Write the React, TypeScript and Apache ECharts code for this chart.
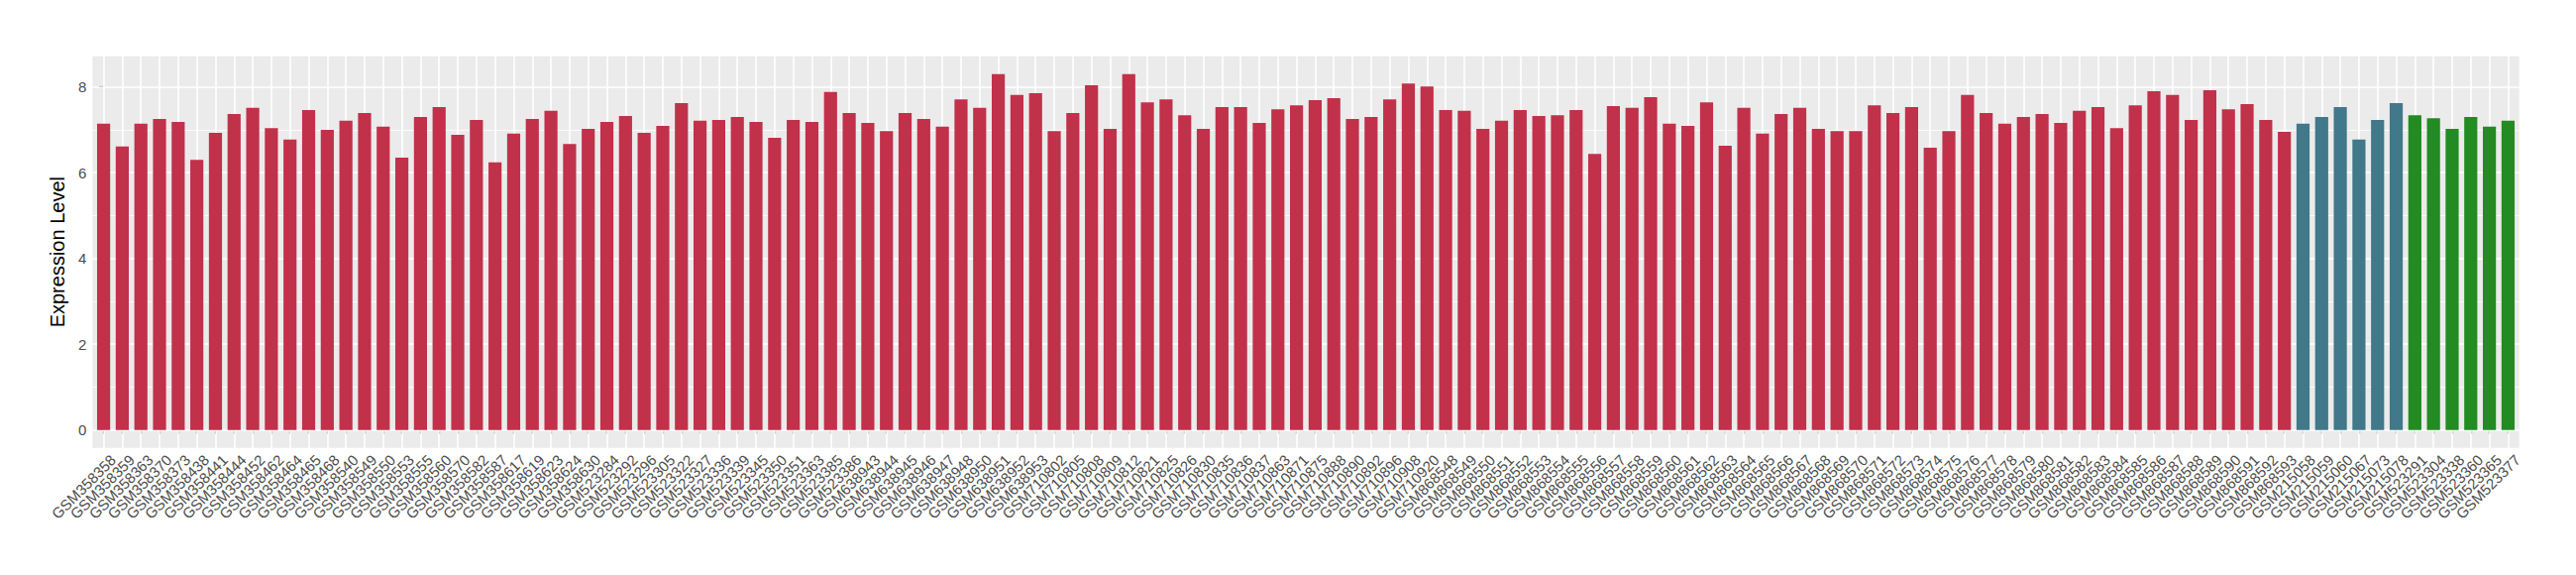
import React, { useEffect, useRef } from "react";
import * as echarts from "echarts";

const redSamples = [
  "GSM358358","GSM358359","GSM358363","GSM358370","GSM358373","GSM358438","GSM358441","GSM358444","GSM358452","GSM358462","GSM358464","GSM358465",
  "GSM358468","GSM358540","GSM358549","GSM358550","GSM358553","GSM358555","GSM358560","GSM358570","GSM358582","GSM358587","GSM358617",
  "GSM358619","GSM358623","GSM358624","GSM358630","GSM523284","GSM523292","GSM523296","GSM523305","GSM523322","GSM523327","GSM523336","GSM523339",
  "GSM523345","GSM523350","GSM523351","GSM523363","GSM523385","GSM523386","GSM638943","GSM638944","GSM638945","GSM638946","GSM638947","GSM638948",
  "GSM638950","GSM638951","GSM638952","GSM638953","GSM710802","GSM710805","GSM710808","GSM710809","GSM710812","GSM710821","GSM710825",
  "GSM710826","GSM710830","GSM710835","GSM710836","GSM710837","GSM710863","GSM710871","GSM710875","GSM710888","GSM710890","GSM710892","GSM710896",
  "GSM710908","GSM710920","GSM868548","GSM868549","GSM868550","GSM868551","GSM868552","GSM868553","GSM868554","GSM868555","GSM868556","GSM868557",
  "GSM868558","GSM868559","GSM868560","GSM868561","GSM868562","GSM868563","GSM868564","GSM868565","GSM868566","GSM868567","GSM868568","GSM868569",
  "GSM868570","GSM868571","GSM868572","GSM868573","GSM868574","GSM868575","GSM868576","GSM868577","GSM868578","GSM868579","GSM868580",
  "GSM868581","GSM868582","GSM868583","GSM868584","GSM868585","GSM868586","GSM868587","GSM868588","GSM868589","GSM868590","GSM868591","GSM868592",
  "GSM868593",
];
const redValues = [
  7.14, 6.61, 7.14, 7.25, 7.18, 6.30, 6.93, 7.37, 7.51, 7.04, 6.77, 7.46,
  7.00, 7.21, 7.39, 7.07, 6.35, 7.30, 7.53, 6.88, 7.23, 6.24, 6.91,
  7.25, 7.44, 6.67, 7.02, 7.18, 7.32, 6.93, 7.09, 7.62, 7.21, 7.23, 7.30,
  7.18, 6.81, 7.23, 7.18, 7.88, 7.39, 7.16, 6.97, 7.39, 7.25, 7.07, 7.71,
  7.51, 8.30, 7.81, 7.85, 6.97, 7.39, 8.04, 7.02, 8.30, 7.64, 7.71,
  7.34, 7.02, 7.53, 7.53, 7.16, 7.48, 7.57, 7.69, 7.74, 7.25, 7.30, 7.71,
  8.08, 8.01, 7.46, 7.44, 7.02, 7.21, 7.46, 7.32, 7.34, 7.46, 6.44, 7.55,
  7.51, 7.76, 7.14, 7.09, 7.64, 6.63, 7.51, 6.91, 7.37, 7.51, 7.02, 6.97,
  6.97, 7.57, 7.39, 7.53, 6.58, 6.97, 7.81, 7.39, 7.14, 7.30, 7.37,
  7.16, 7.44, 7.53, 7.04, 7.57, 7.90, 7.81, 7.23, 7.92, 7.48, 7.60, 7.23,
  6.95,
];
const blueSamples = ["GSM215058","GSM215059","GSM215060","GSM215067","GSM215073","GSM215078"];
const blueValues = [7.14, 7.30, 7.53, 6.77, 7.23, 7.62];
const greenSamples = ["GSM523291","GSM523304","GSM523338","GSM523360","GSM523365","GSM523377"];
const greenValues = [7.34, 7.27, 7.02, 7.30, 7.07, 7.21];

const yTicks = [0, 2, 4, 6, 8];
const yMinorTicks = [1, 3, 5, 7];

const RED = "#C1314A";
const BLUE = "#41788A";
const GREEN = "#228B22";

export default function App() {
  const ref = useRef<HTMLDivElement>(null);
  useEffect(() => {
    if (!ref.current) return;
    const chart = echarts.init(ref.current, null, { renderer: "svg" });
    const categories = [...redSamples, ...blueSamples, ...greenSamples];
    const groups = [
      { values: redValues, color: RED },
      { values: blueValues, color: BLUE },
      { values: greenValues, color: GREEN },
    ];
    const data: any[] = [];
    groups.forEach((g) => {
      g.values.forEach((v) => {
        data.push({ value: [data.length, v], itemStyle: { color: g.color } });
      });
    });
    const idx = categories.map((_, i) => i);
    const n = categories.length;
    const xMin = -0.6;
    const xMax = n - 1 + 0.6;
    // empty sentinel labels at the axis ends so the real first/last names are laid out like the rest
    const labelValues = [xMin, ...idx, xMax];
    const font = "'Liberation Sans', Arial, Helvetica, sans-serif";

    const markData: any[] = [];
    yTicks.forEach((t) => markData.push({ yAxis: t, lineStyle: { color: "#ffffff", width: 1.6, type: "solid" } }));
    yMinorTicks.forEach((t) => markData.push({ yAxis: t, lineStyle: { color: "#ffffff", width: 0.8, type: "solid" } }));
    idx.forEach((i) => markData.push({ xAxis: i, lineStyle: { color: "#ffffff", width: 1.6, type: "solid" } }));

    chart.setOption({
      animation: false,
      grid: {
        left: 93.3,
        right: 57.3,
        top: 56.7,
        bottom: 128.3,
        show: true,
        backgroundColor: "#EBEBEB",
        borderWidth: 0,
        containLabel: false,
      },
      xAxis: {
        type: "value",
        min: xMin,
        max: xMax,
        axisLine: { show: false },
        splitLine: { show: false },
        axisTick: {
          show: true,
          customValues: idx,
          length: 4,
          lineStyle: { color: "#333333", width: 1.1 },
        },
        axisLabel: {
          show: true,
          customValues: labelValues,
          rotate: 45,
          margin: 0,
          align: "right",
          verticalAlign: "top",
          padding: [6, 0, 0, 0],
          hideOverlap: false,
          fontSize: 15,
          fontFamily: font,
          color: "#4D4D4D",
          formatter: (v: number) => {
            const k = Math.round(v);
            return Math.abs(v - k) < 1e-6 && categories[k] ? categories[k] : "";
          },
        },
      },
      yAxis: {
        type: "value",
        min: -0.415,
        max: 8.715,
        name: "Expression Level",
        nameLocation: "middle",
        nameGap: 16,
        nameTextStyle: { fontSize: 20, fontFamily: font, color: "#000000" },
        axisLine: { show: false },
        splitLine: { show: false },
        axisTick: {
          show: true,
          customValues: yTicks,
          length: 4.5,
          lineStyle: { color: "#333333", width: 1.1 },
        },
        axisLabel: {
          show: true,
          customValues: yTicks,
          margin: 6,
          showMinLabel: true,
          showMaxLabel: true,
          fontSize: 15,
          fontFamily: font,
          color: "#4D4D4D",
        },
      },
      series: [
        {
          type: "bar",
          data,
          barWidth: 13.2,
          z: 2,
          markLine: {
            z: 1,
            silent: true,
            symbol: ["none", "none"],
            label: { show: false },
            animation: false,
            data: markData,
          },
        },
      ],
    });
    return () => chart.dispose();
  }, []);
  return (
    <div
      ref={ref}
      style={{ position: "fixed", left: 0, top: 0, width: 2600, height: 580, background: "#ffffff" }}
    />
  );
}
